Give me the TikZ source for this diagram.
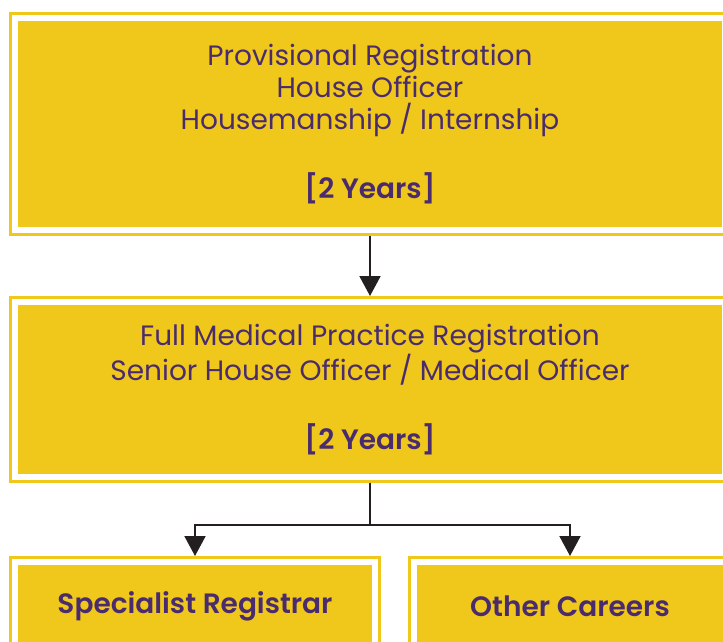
\documentclass[tikz,border=0pt]{standalone}
\usepackage{fontspec}
\setmainfont{Poppins}[BoldFont={Poppins SemiBold}]
\usetikzlibrary{arrows.meta}
\definecolor{boxyellow}{HTML}{F0C81B}
\definecolor{textpurple}{HTML}{4A2C6E}
\definecolor{arrowgray}{HTML}{231F20}
\tikzset{
  stagebox/.style={draw=boxyellow, double=white, line width=3pt, double distance=6pt,
    fill=boxyellow, outer sep=6pt, text=textpurple, align=center, inner sep=0pt},
  flow/.style={draw=arrowgray, line width=2pt, -{Triangle[length=20pt,width=21pt]}}
}
\begin{document}
\begin{tikzpicture}[x=1pt,y=-1pt]
\fontsize{28}{32}\selectfont
\useasboundingbox (0,0) rectangle (723,642);
\clip (0,0) rectangle (723,642);
% boxes
\node[stagebox, minimum width=710pt, minimum height=211.5pt] (prov) at (370,124.25)
  {Provisional Registration\\House Officer\\Housemanship / Internship\\[35pt]\textbf{[2 Years]}};
\node[stagebox, minimum width=710pt, minimum height=174.5pt] (full) at (370,389.25)
  {Full Medical Practice Registration\\Senior House Officer / Medical Officer\\[37pt]\textbf{[2 Years]}};
\node[stagebox, minimum width=360pt, minimum height=88pt] (spec) at (195,606)
  {\textbf{Specialist Registrar}};
\node[stagebox, minimum width=312pt, minimum height=88pt] (other) at (570,606)
  {\textbf{Other Careers}};
% connectors
\coordinate (fork) at (370,525);
\draw[flow] (prov.south) -- (full.north);
\draw[flow] (full.south) -- (fork) -| (spec.north);
\draw[flow] (full.south) -- (fork) -| (other.north);
\end{tikzpicture}
\end{document}
